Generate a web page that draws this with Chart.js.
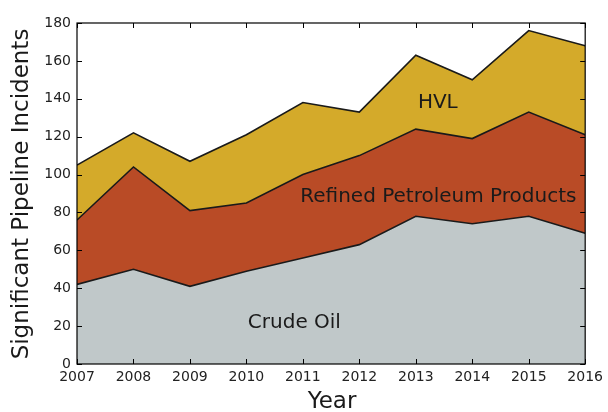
<!DOCTYPE html>
<html>
<head>
<meta charset="utf-8">
<script src="https://cdn.jsdelivr.net/npm/chart.js@4"></script>
<style>
  html, body { margin: 0; padding: 0; background: #fff; }
</style>
</head>
<body>
<canvas id="area-chart" width="608" height="412"></canvas>
<script>
const years = [2007, 2008, 2009, 2010, 2011, 2012, 2013, 2014, 2015, 2016];
const crudeOil = [42, 50, 41, 49, 56, 63, 78, 74, 78, 69];
const refinedProducts = [34, 54, 40, 36, 44, 47, 46, 45, 55, 52];
const hvl = [29, 18, 26, 36, 38, 23, 39, 31, 43, 47];
const yTicks = [0, 20, 40, 60, 80, 100, 120, 140, 160, 180];

// labels placed in data coordinates
const areaLabels = [
  { text: 'Crude Oil', x: 2010.85, y: 22 },
  { text: 'Refined Petroleum Products', x: 2013.4, y: 88 },
  { text: 'HVL', x: 2013.39, y: 138 }
];

function points(values) {
  return years.map((yr, i) => ({ x: yr, y: values[i] }));
}

const font = "'DejaVu Sans', sans-serif";

const framePlugin = {
  id: 'frame',
  afterDatasetsDraw(chart) {
    const ctx = chart.ctx;
    const a = chart.chartArea;
    const xs = chart.scales.x;
    const ys = chart.scales.y;
    ctx.save();
    ctx.strokeStyle = '#000';
    ctx.lineWidth = 1;
    ctx.beginPath();
    years.forEach(yr => {
      const px = Math.round(xs.getPixelForValue(yr)) + 0.5;
      ctx.moveTo(px, a.bottom); ctx.lineTo(px, a.bottom - 5);
      ctx.moveTo(px, a.top); ctx.lineTo(px, a.top + 5);
    });
    yTicks.forEach(v => {
      const py = Math.round(ys.getPixelForValue(v)) + 0.5;
      ctx.moveTo(a.left, py); ctx.lineTo(a.left + 5, py);
      ctx.moveTo(a.right, py); ctx.lineTo(a.right - 5, py);
    });
    ctx.stroke();
    ctx.lineWidth = 1.2;
    ctx.strokeRect(a.left, a.top, a.right - a.left, a.bottom - a.top);

    // labels on the areas
    ctx.fillStyle = '#1a1a1a';
    ctx.font = '20px ' + font;
    ctx.textAlign = 'center';
    ctx.textBaseline = 'middle';
    areaLabels.forEach(l => {
      ctx.fillText(l.text, xs.getPixelForValue(l.x), ys.getPixelForValue(l.y));
    });

    // axis titles
    ctx.font = '23px ' + font;
    ctx.fillText('Year', 332, 402);
    ctx.translate(22, 194);
    ctx.rotate(-Math.PI / 2);
    ctx.fillText('Significant Pipeline Incidents', 0, 0);
    ctx.restore();
  }
};

const lineStyle = {
  borderColor: '#1a1a1a',
  borderWidth: 1.6,
  pointRadius: 0,
  tension: 0
};

new Chart(document.getElementById('area-chart'), {
  type: 'line',
  data: {
    datasets: [
      Object.assign({ label: 'Crude Oil', data: points(crudeOil), backgroundColor: 'rgb(192, 200, 201)', fill: 'origin' }, lineStyle),
      Object.assign({ label: 'Refined Petroleum Products', data: points(refinedProducts), backgroundColor: 'rgb(185, 75, 38)', fill: '-1' }, lineStyle),
      Object.assign({ label: 'HVL', data: points(hvl), backgroundColor: 'rgb(212, 170, 42)', fill: '-1' }, lineStyle)
    ]
  },
  options: {
    responsive: false,
    animation: false,
    layout: { padding: { left: 0, top: 23, right: 19, bottom: 0 } },
    plugins: {
      legend: { display: false },
      tooltip: { enabled: false }
    },
    scales: {
      x: {
        type: 'linear',
        min: 2007,
        max: 2016,
        grid: { display: false, drawTicks: false },
        border: { display: false },
        ticks: {
          stepSize: 1,
          autoSkip: false,
          maxRotation: 0,
          padding: 5,
          color: '#222',
          font: { family: font, size: 14 },
          callback: v => String(v)
        },
        afterFit(scale) { scale.height = 48; }
      },
      y: {
        stacked: true,
        min: 0,
        max: 180,
        grid: { display: false, drawTicks: false },
        border: { display: false },
        ticks: {
          stepSize: 20,
          padding: 6,
          color: '#222',
          font: { family: font, size: 14 }
        },
        afterFit(scale) { scale.width = 77; }
      }
    }
  },
  plugins: [framePlugin]
});
</script>
</body>
</html>
